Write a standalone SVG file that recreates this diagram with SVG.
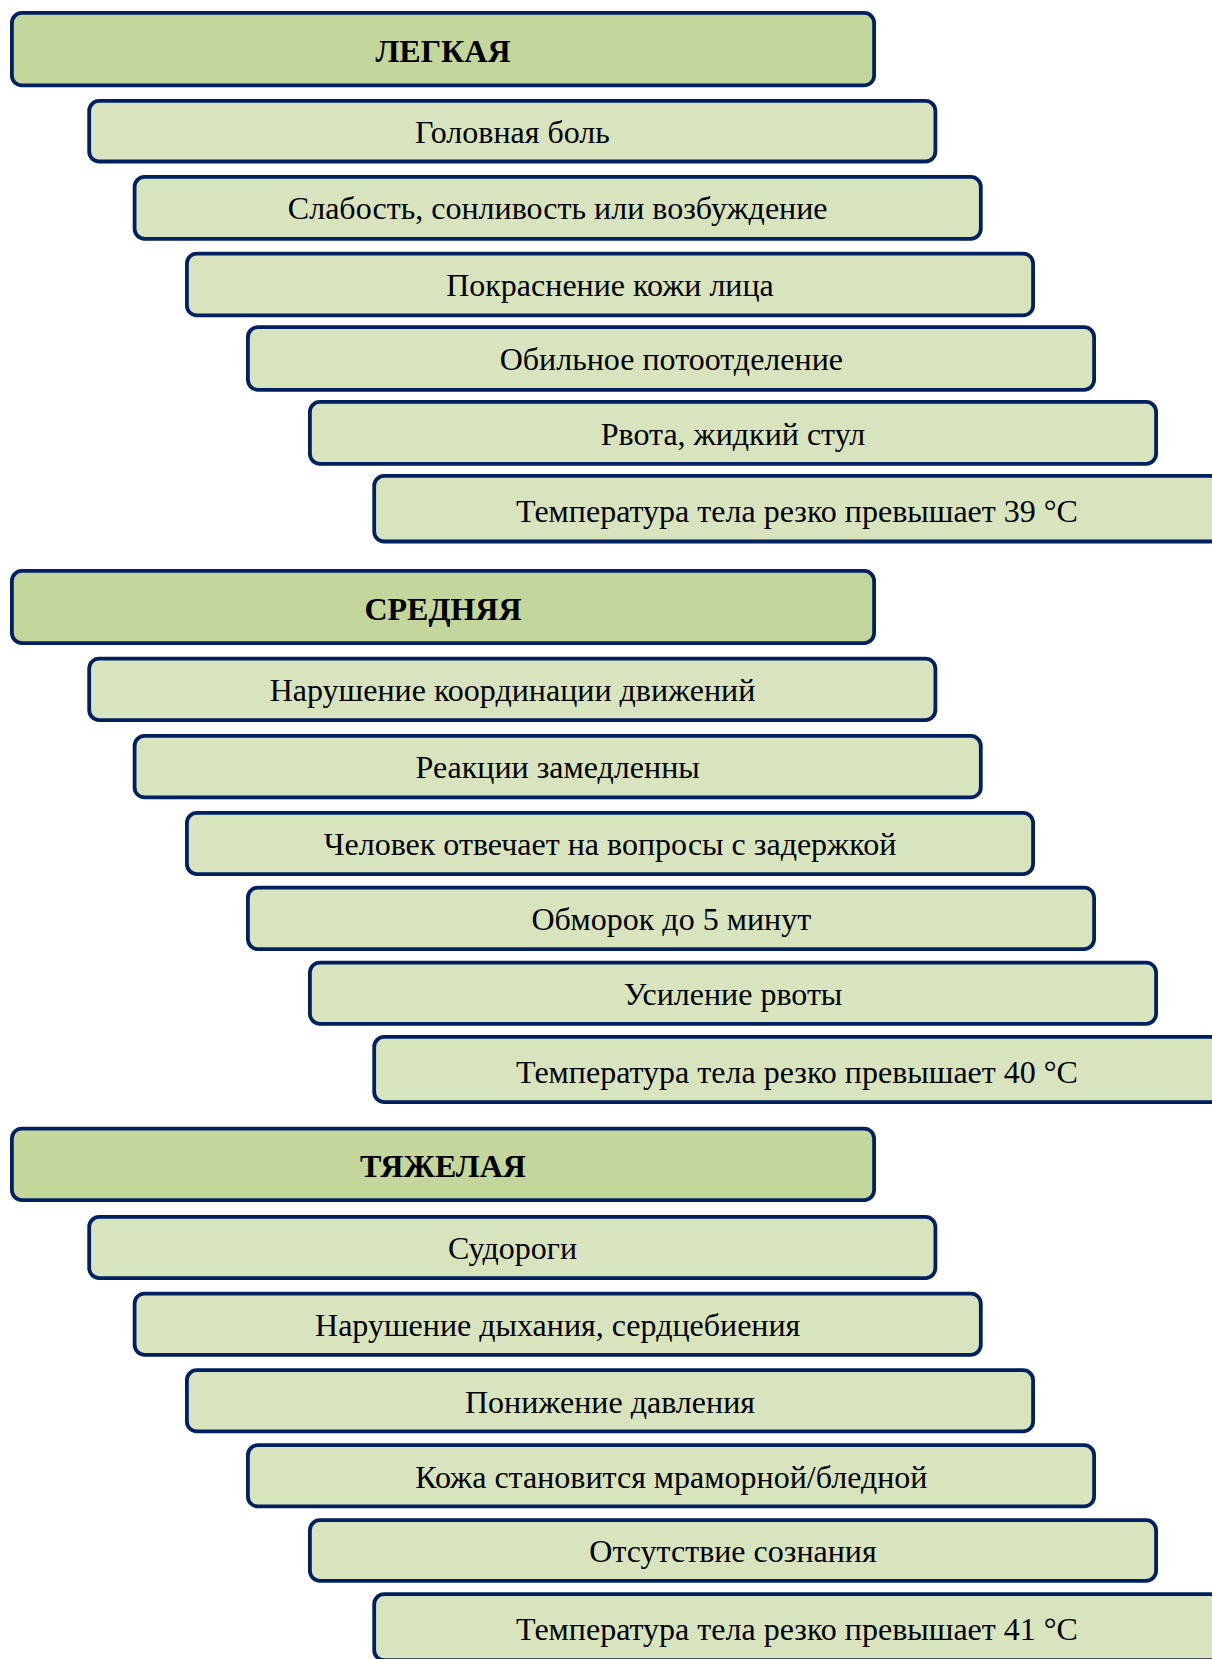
<svg xmlns="http://www.w3.org/2000/svg" width="1212" height="1659" viewBox="0 0 1212 1659">
<style>
.hd{fill:#c3d69b;stroke:#002060;stroke-width:3.8}
.bx{fill:#d7e4bd;stroke:#002060;stroke-width:3.8}
.t{font-family:"Liberation Serif","Times New Roman",serif;font-size:32px;fill:#000;text-anchor:middle}
.th{font-family:"Liberation Serif","Times New Roman",serif;font-size:32px;font-weight:bold;fill:#000;text-anchor:middle}
</style>
<rect width="1212" height="1659" fill="#fff"/>
<g id="connectors"/>
<!-- Section 1 -->
<g id="h1"><rect class="hd" x="11.9" y="12.9" width="862.2" height="72.5" rx="10"/><text class="th" x="443" y="61.7">ЛЕГКАЯ</text></g>
<g id="s1r1"><rect class="bx" x="89.2" y="100.9" width="846.2" height="60.6" rx="10"/><text class="t" x="512.5" y="143.3">Головная боль</text></g>
<g id="s1r2"><rect class="bx" x="134.6" y="176.9" width="846.2" height="61.9" rx="10"/><text class="t" x="557.7" y="219.3">Слабость, сонливость или возбуждение</text></g>
<g id="s1r3"><rect class="bx" x="186.9" y="253.6" width="846.2" height="61.8" rx="10"/><text class="t" x="610" y="296">Покраснение кожи лица</text></g>
<g id="s1r4"><rect class="bx" x="247.9" y="327.2" width="846.2" height="62.6" rx="10"/><text class="t" x="671.3" y="370">Обильное потоотделение</text></g>
<g id="s1r5"><rect class="bx" x="309.9" y="401.9" width="846.2" height="61.9" rx="10"/><text class="t" x="733" y="444.5">Рвота, жидкий стул</text></g>
<g id="s1r6"><rect class="bx" x="374.2" y="475.9" width="846.2" height="65.6" rx="10"/><text class="t" x="797" y="521.7">Температура тела резко превышает 39 °C</text></g>
<!-- Section 2 -->
<g id="h2"><rect class="hd" x="11.9" y="570.9" width="862.2" height="72.2" rx="10"/><text class="th" x="443" y="619.5">СРЕДНЯЯ</text></g>
<g id="s2r1"><rect class="bx" x="89.2" y="658.6" width="846.2" height="61.5" rx="10"/><text class="t" x="512.5" y="701">Нарушение координации движений</text></g>
<g id="s2r2"><rect class="bx" x="134.6" y="735.9" width="846.2" height="61.5" rx="10"/><text class="t" x="557.7" y="778.3">Реакции замедленны</text></g>
<g id="s2r3"><rect class="bx" x="186.9" y="812.9" width="846.2" height="61.2" rx="10"/><text class="t" x="610" y="855.3">Человек отвечает на вопросы с задержкой</text></g>
<g id="s2r4"><rect class="bx" x="247.9" y="887.6" width="846.2" height="61.5" rx="10"/><text class="t" x="671.3" y="930">Обморок до 5 минут</text></g>
<g id="s2r5"><rect class="bx" x="309.9" y="962.6" width="846.2" height="61.2" rx="10"/><text class="t" x="733" y="1005">Усиление рвоты</text></g>
<g id="s2r6"><rect class="bx" x="374.2" y="1036.9" width="846.2" height="65.2" rx="10"/><text class="t" x="797" y="1082.7">Температура тела резко превышает 40 °C</text></g>
<!-- Section 3 -->
<g id="h3"><rect class="hd" x="11.9" y="1128.6" width="862.2" height="71.5" rx="10"/><text class="th" x="443" y="1177.4">ТЯЖЕЛАЯ</text></g>
<g id="s3r1"><rect class="bx" x="89.2" y="1216.9" width="846.2" height="61.2" rx="10"/><text class="t" x="512.5" y="1259.3">Судороги</text></g>
<g id="s3r2"><rect class="bx" x="134.6" y="1293.6" width="846.2" height="61.2" rx="10"/><text class="t" x="557.7" y="1336">Нарушение дыхания, сердцебиения</text></g>
<g id="s3r3"><rect class="bx" x="186.9" y="1370.2" width="846.2" height="61.2" rx="10"/><text class="t" x="610" y="1412.6">Понижение давления</text></g>
<g id="s3r4"><rect class="bx" x="247.9" y="1445.2" width="846.2" height="61.2" rx="10"/><text class="t" x="671.3" y="1487.6">Кожа становится мраморной/бледной</text></g>
<g id="s3r5"><rect class="bx" x="309.9" y="1520.2" width="846.2" height="60.6" rx="10"/><text class="t" x="733" y="1562.3">Отсутствие сознания</text></g>
<g id="s3r6"><rect class="bx" x="374.2" y="1594.2" width="846.2" height="66" rx="10"/><text class="t" x="797" y="1640">Температура тела резко превышает 41 °C</text></g>
</svg>
